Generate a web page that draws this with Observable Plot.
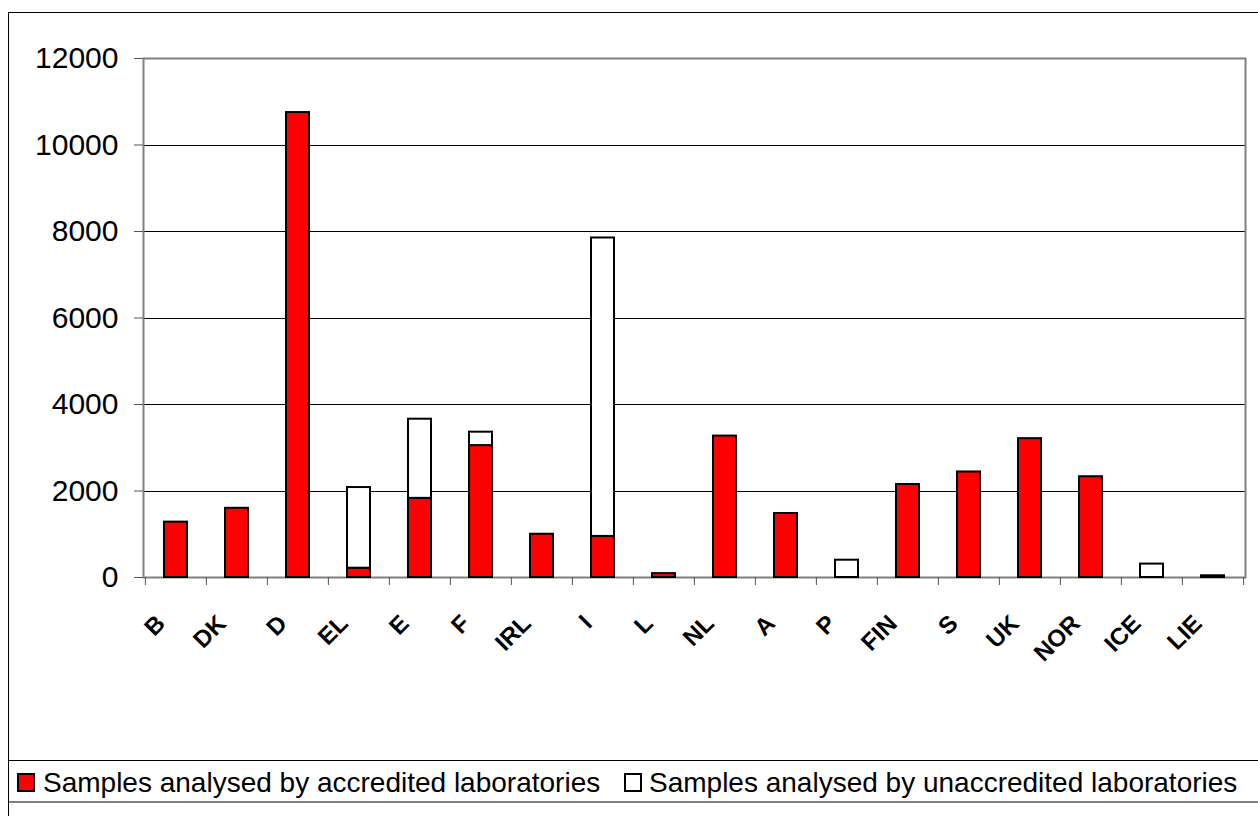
<!DOCTYPE html>
<html>
<head>
<meta charset="utf-8">
<script src="https://cdn.jsdelivr.net/npm/d3@7"></script>
<script src="https://cdn.jsdelivr.net/npm/@observablehq/plot@0.6"></script>
<style>
  body { margin: 0; background: #fff; }
  #wrap { position: relative; width: 1258px; height: 816px; overflow: hidden; font-family: 'Liberation Sans', Arial, sans-serif; }
  #chart svg, #legend svg { display: block; }
  #border { position: absolute; left: 8px; top: 12px; width: 1400px; height: 1000px; border: 1px solid #000; pointer-events: none; box-sizing: border-box; }
</style>
</head>
<body>
<div id="wrap">
  <div id="chart"></div>
  <div id="legend"></div>
  <div id="border"></div>
</div>
<script>
const countries = ["B","DK","D","EL","E","F","IRL","I","L","NL","A","P","FIN","S","UK","NOR","ICE","LIE"];
const accredited = [1280,1600,10750,215,1830,3050,1000,950,90,3270,1480,0,2150,2440,3210,2330,0,40];
const unaccredited = [0,0,0,1865,1830,310,0,6900,0,0,0,400,0,0,0,0,310,0];
const yTicks = [0,2000,4000,6000,8000,10000,12000];
const seriesNames = ["Samples analysed by accredited laboratories","Samples analysed by unaccredited laboratories"];
const seriesColors = ["#ff0000","#ffffff"];

const rows = countries.flatMap((c, i) => [
  {country: c, series: seriesNames[0], value: accredited[i]},
  {country: c, series: seriesNames[1], value: unaccredited[i]}
]).filter(d => d.value > 0);

const W = 1258, H = 760, mL = 143, mR = 13, mT = 58, mB = 183;
const step = (W - mL - mR) / countries.length;

const chart = Plot.plot({
  width: W, height: H,
  marginLeft: mL, marginRight: mR, marginTop: mT, marginBottom: mB,
  style: {fontFamily: "'Liberation Sans', Arial, sans-serif", background: "white", color: "#000", overflow: "visible"},
  x: {type: "band", domain: countries, paddingInner: 0.624, paddingOuter: 0.312, align: 0.5},
  y: {domain: [0, 12000]},
  color: {domain: seriesNames, range: seriesColors},
  marks: [
    Plot.ruleY(yTicks.filter(t => t > 0 && t < 12000), {stroke: "#000", strokeWidth: 1, shapeRendering: "crispEdges"}),
    Plot.frame({stroke: "#808080", strokeWidth: 2}),
    Plot.barY(rows, {x: "country", y: "value", fill: "series", stroke: "#000", strokeWidth: 2}),
    Plot.axisY({ticks: yTicks, tickSize: 9, tickPadding: 16, fontSize: 30, tickFormat: d => String(d), label: null, stroke: "#555"}),
    Plot.axisX({tickRotate: -45, tickSize: 0, tickPadding: 42, dx: -15, fontSize: 24, fontWeight: "bold", label: null}),
    Plot.ruleX(countries, {x: d => d, dx: -step / 2, y1: 0, y2: 0, insetBottom: -8, stroke: "#555"}),
    Plot.ruleX(countries.slice(-1), {x: d => d, dx: step / 2, y1: 0, y2: 0, insetBottom: -8, stroke: "#555"})
  ]
});
document.getElementById("chart").appendChild(chart);

// legend below the plot
const lg = d3.select("#legend").append("svg").attr("width", W).attr("height", 56)
  .style("font-family", "'Liberation Sans', Arial, sans-serif");
lg.append("line").attr("x1", 8).attr("x2", W).attr("y1", 0.5).attr("y2", 0.5).attr("stroke", "#000");
lg.append("line").attr("x1", 8).attr("x2", W).attr("y1", 42).attr("y2", 42).attr("stroke", "#000");
const items = [{x: 18, tx: 43}, {x: 625, tx: 649}];
items.forEach((it, i) => {
  lg.append("rect").attr("x", it.x).attr("y", 14).attr("width", 16).attr("height", 17)
    .attr("fill", seriesColors[i]).attr("stroke", "#000").attr("stroke-width", 2);
  lg.append("text").attr("x", it.tx).attr("y", 31.5).attr("font-size", 28).attr("fill", "#000")
    .text(seriesNames[i]);
});
</script>
</body>
</html>
